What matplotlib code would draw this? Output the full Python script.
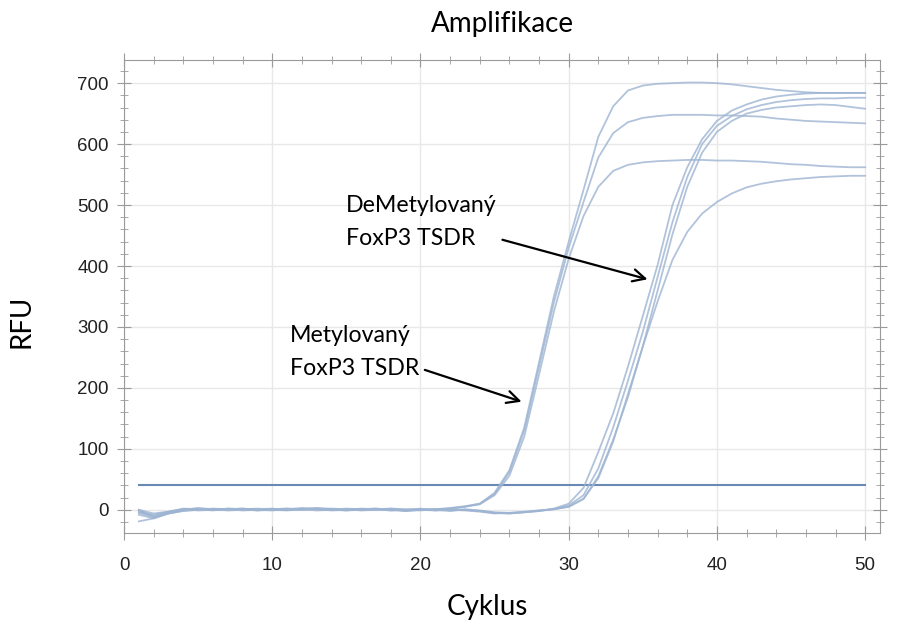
import numpy as np
import matplotlib.pyplot as plt
from matplotlib.ticker import MultipleLocator

cycles = np.arange(1, 51)

# methylated FoxP3 TSDR - early amplification
met_1 = [-2, -10, -4, 1, 2, 0, 1, 2, 0, 1, 2, 1, 3, 1, 0, 2, 1, -1, 0, 1, 0, 2, 5, 10, 28,
         65, 135, 242, 350, 440, 525, 612, 662, 688, 696, 699, 700, 701, 701, 700,
         698, 695, 692, 689, 687, 685, 684, 684, 684, 684]
met_2 = [0, -6, -3, 2, 1, -1, 2, 1, -1, 0, 1, 3, 2, 0, -1, 1, 2, 0, -2, 0, 1, 3, 6, 10, 26,
         62, 130, 235, 340, 430, 505, 578, 618, 636, 643, 646, 648, 648, 648, 647,
         647, 646, 645, 642, 640, 638, 637, 636, 635, 634]
met_3 = [-5, -12, -5, 0, 3, 1, 0, 1, 2, 0, -1, 1, 2, 2, 1, 0, 1, 2, 0, -1, 1, 2, 5, 9, 24,
         56, 120, 222, 325, 412, 482, 530, 556, 566, 570, 572, 573, 574, 574, 573,
         573, 572, 571, 569, 567, 566, 564, 563, 562, 562]

# demethylated FoxP3 TSDR - late amplification
demet_1 = [-19, -14, -6, -2, 0, 1, -1, 0, 1, 2, 0, 1, -1, 0, 2, 1, 0, 1, -2, 0, 1, -1, 0, -2, -5,
           -6, -4, -2, 2, 10, 36, 95, 158, 235, 318, 402, 500, 562, 608, 638,
           655, 665, 673, 678, 681, 683, 684, 684, 684, 684]
demet_2 = [0, -12, -6, -1, 1, 0, 2, 1, -1, 1, 2, 0, 1, -1, 0, 1, 2, 0, -1, 1, 0, -2, 1, -1, -4,
           -5, -4, -1, 1, 7, 24, 68, 135, 212, 292, 382, 472, 546, 600, 630,
           646, 657, 664, 669, 672, 674, 675, 675, 676, 676]
demet_3 = [-4, -8, -3, 1, -1, 0, 1, 2, 0, -1, 1, 0, 2, 1, -1, 0, 1, -1, 0, 2, -1, 0, -1, -3, -6,
           -5, -3, -1, 1, 5, 18, 55, 115, 185, 268, 360, 452, 530, 586, 620,
           638, 650, 656, 660, 662, 664, 665, 664, 661, 658]
demet_4 = [-8, -14, -6, -1, 0, 2, 1, -1, 0, 1, 0, 2, 1, 0, 1, -1, 0, 2, 1, 0, -1, 1, 0, -2, -5,
           -6, -4, -2, 1, 5, 18, 52, 112, 190, 268, 342, 410, 456, 486, 505,
           519, 529, 535, 539, 542, 544, 546, 547, 548, 548]

threshold = 40

curves = [met_1, met_2, met_3, demet_1, demet_2, demet_3, demet_4]

fig = plt.figure(figsize=(9.2, 6.28), dpi=100)
ax = fig.add_axes([0.1348, 0.1513, 0.8217, 0.7532])

for c in curves:
    ax.plot(cycles, c, color='#9db4d2', lw=1.3, alpha=0.8, zorder=3)
ax.plot([cycles[0], cycles[-1]], [threshold, threshold], color='#6a89b4', lw=1.5, zorder=2)

ax.set_xlim(0, 51)
ax.set_ylim(-38, 738)
ax.xaxis.set_major_locator(MultipleLocator(10))
ax.xaxis.set_minor_locator(MultipleLocator(2))
ax.yaxis.set_major_locator(MultipleLocator(100))
ax.yaxis.set_minor_locator(MultipleLocator(20))
ax.grid(True, which='major', color='#e8e8e8', lw=1, zorder=0)
for s in ax.spines.values():
    s.set_color('#9a9a9a')
ax.tick_params(which='major', direction='inout', length=10, color='#9a9a9a',
               top=True, right=True, labelsize=13.5, labelcolor='#222222')
ax.tick_params(axis='x', which='major', pad=12)
ax.tick_params(axis='y', which='major', pad=6)
ax.tick_params(which='minor', direction='inout', length=6, color='#9a9a9a',
               top=True, right=True)
for lab in ax.get_xticklabels() + ax.get_yticklabels():
    lab.set_family('Liberation Sans')

ax.set_title('Amplifikace', family='Lato', fontsize=20, pad=20)
ax.set_xlabel('Cyklus', family='Lato', fontsize=20, va='center')
ax.xaxis.set_label_coords(0.48, -0.156)
ax.set_ylabel('RFU', family='Lato', fontsize=20, va='center')
ax.yaxis.set_label_coords(-0.135, 0.448)

arrow = dict(arrowstyle='->', color='black', lw=1.6, mutation_scale=22)
ax.annotate('DeMetylovaný\nFoxP3 TSDR', xy=(35.5, 377), xytext=(15.0, 472),
            family='Lato', fontsize=16.7, va='center', ha='left', linespacing=1.7,
            arrowprops=dict(arrow, relpos=(1.0, 0.2)))
ax.annotate('Metylovaný\nFoxP3 TSDR', xy=(27.0, 176), xytext=(11.2, 259),
            family='Lato', fontsize=16.7, va='center', ha='left', linespacing=1.7,
            arrowprops=dict(arrow, relpos=(1.0, 0.2)))

fig.savefig('out.png', dpi=100)
